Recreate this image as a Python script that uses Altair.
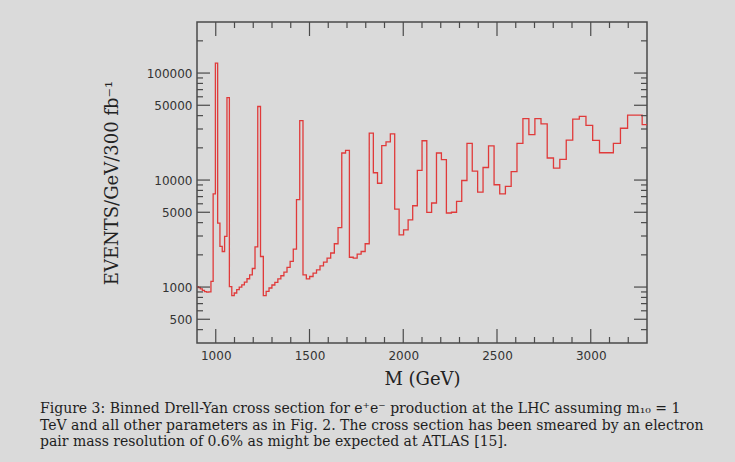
import altair as alt
import pandas as pd

# Bin lower edges (GeV) – last entry is the upper edge of the final bin
edges = [895.9, 906.7, 917.7, 928.7, 939.9, 951.3, 962.7, 974.4, 986.1, 998.1,
         1010.1, 1022.3, 1034.6, 1047.2, 1059.8, 1072.7, 1085.5, 1098.6, 1111.9, 1125.3,
         1138.9, 1152.7, 1166.6, 1180.7, 1195.0, 1209.4, 1224.0, 1238.7, 1253.7, 1268.8,
         1284.1, 1299.6, 1315.2, 1331.2, 1347.3, 1363.5, 1380.0, 1396.7, 1413.5, 1430.6,
         1447.9, 1465.3, 1483.1, 1501.0, 1519.1, 1537.4, 1556.0, 1574.7, 1593.7, 1613.0,
         1632.4, 1652.2, 1672.1, 1692.3, 1712.8, 1733.4, 1754.3, 1775.4, 1796.9, 1818.6,
         1840.5, 1862.7, 1885.3, 1908.1, 1931.1, 1954.4, 1978.0, 2001.8, 2026.0, 2050.4,
         2075.1, 2100.2, 2125.6, 2151.2, 2177.2, 2203.5, 2230.1, 2257.0, 2284.3, 2311.9,
         2339.8, 2368.0, 2396.7, 2425.6, 2454.8, 2484.4, 2514.5, 2544.8, 2575.6, 2606.6,
         2638.2, 2670.0, 2702.1, 2734.7, 2767.8, 2801.2, 2835.0, 2869.3, 2903.9, 2939.0,
         2974.5, 3010.3, 3046.7, 3083.4, 3120.7, 3158.4, 3196.5, 3235.1, 3274.2, 3313.7]

# Events / GeV / 300 fb^-1 in each bin
events = [1010, 990, 960, 930, 905, 895, 900, 1130, 7440, 124000,
          3960, 2400, 2150, 2970, 59000, 1010, 830, 880, 945, 1000,
          1050, 1110, 1195, 1300, 1490, 2370, 48700, 1930, 830, 910,
          980, 1045, 1105, 1190, 1275, 1380, 1525, 1735, 2265, 6550,
          36000, 1300, 1190, 1255, 1350, 1450, 1580, 1710, 1865, 2080,
          2540, 3600, 17900, 18900, 1900, 1865, 2030, 2150, 2540, 27500,
          11700, 9340, 21000, 22700, 27000, 5350, 3080, 3430, 4250, 5750,
          12300, 23300, 4980, 6100, 17900, 15500, 4920, 5000, 6320, 9900,
          22000, 12100, 7700, 13100, 20900, 9040, 7440, 8720, 12000, 22000,
          37500, 26600, 37500, 33500, 16070, 12900, 15600, 23600, 37100, 39300,
          32500, 23500, 18000, 18000, 22000, 30500, 40500, 40500, 32900]

x_major = [1000, 1500, 2000, 2500, 3000]
x_minor = [1100, 1200, 1300, 1400, 1600, 1700, 1800, 1900, 2100, 2200,
           2300, 2400, 2600, 2700, 2800, 2900, 3100, 3200]
y_major = [500, 1000, 5000, 10000, 50000, 100000]
y_minor = [400, 600, 700, 800, 900, 2000, 3000, 4000, 6000, 7000, 8000, 9000,
           20000, 30000, 40000, 60000, 70000, 80000, 90000, 200000]

caption = ("Figure 3: Binned Drell-Yan cross section for e\u207ae\u207b production at the LHC assuming m\u2081\u2080 = 1\n"
           "TeV and all other parameters as in Fig. 2.  The cross section has been smeared by an electron\n"
           "pair mass resolution of 0.6% as might be expected at ATLAS [15].")

W, H = 450, 321
RED = "#e03a3a"
FRAME = "#4a4a4a"
BG = "#dadada"

df = pd.DataFrame({"M": edges, "v": events + [events[-1]]})

xs = alt.Scale(domain=[900, 3300], nice=False, zero=False)
ys = alt.Scale(type="log", domain=[300, 300000], nice=False)

x_axis = alt.Axis(
    values=x_major, title="M (GeV)", ticks=False, domain=False, grid=False,
    format="d", labelPadding=7, labelFont="DejaVu Sans", labelFontSize=12,
    labelColor="#333",
    titleFont="DejaVu Serif", titleFontSize=18, titleFontWeight="normal",
    titleColor="#222", titleBaseline="middle", titleY=36, titleX=W / 2)
y_axis = alt.Axis(
    values=y_major, title="EVENTS/GeV/300 fb\u207b\u00b9", ticks=False, domain=False,
    grid=False, labelPadding=5, labelFont="DejaVu Sans", labelFontSize=12,
    labelColor="#333", format="d",
    titleFont="DejaVu Serif", titleFontSize=18, titleFontWeight="normal",
    titleColor="#222", titleBaseline="middle", titleAngle=-90, titleX=-85,
    titleY=H / 2)

line = alt.Chart(df).mark_line(
    interpolate="step-after", color=RED, strokeWidth=1.3, clip=True
).encode(
    x=alt.X("M:Q", scale=xs, axis=x_axis),
    y=alt.Y("v:Q", scale=ys, axis=y_axis),
)


def xticks(vals, length, top):
    d = pd.DataFrame({"t": vals})
    if top:
        yv, y2v = alt.value(0), alt.value(length)
    else:
        yv, y2v = alt.value(H), alt.value(H - length)
    return alt.Chart(d).mark_rule(color=FRAME, strokeWidth=1.2).encode(
        x=alt.X("t:Q", scale=xs, axis=x_axis), y=yv, y2=y2v)


def yticks(vals, length, right):
    d = pd.DataFrame({"t": vals})
    if right:
        xv, x2v = alt.value(W), alt.value(W - length)
    else:
        xv, x2v = alt.value(0), alt.value(length)
    return alt.Chart(d).mark_rule(color=FRAME, strokeWidth=1.2).encode(
        y=alt.Y("t:Q", scale=ys, axis=y_axis), x=xv, x2=x2v)


cap = alt.Chart(pd.DataFrame({"t": [caption]})).mark_text(
    align="left", baseline="alphabetic", font="DejaVu Serif", fontSize=14,
    lineBreak="\n", lineHeight=16.5, color="#1e1e1e"
).encode(text="t:N", x=alt.value(40 - 197), y=alt.value(413 - 22))

chart = alt.layer(
    line,
    xticks(x_major, 14, False), xticks(x_minor, 6, False),
    xticks(x_major, 14, True), xticks(x_minor, 6, True),
    yticks(y_major, 13, False), yticks(y_minor, 6, False),
    yticks(y_major, 13, True), yticks(y_minor, 6, True),
    cap,
).properties(
    width=W, height=H,
    autosize=alt.AutoSizeParams(type="none"),
    padding={"left": 197, "top": 22, "right": 88, "bottom": 119},
    background=BG,
).configure_view(
    stroke=FRAME, strokeWidth=1.5, fill=BG
)

chart.save("out.html", embed_options={"renderer": "svg", "actions": False})
